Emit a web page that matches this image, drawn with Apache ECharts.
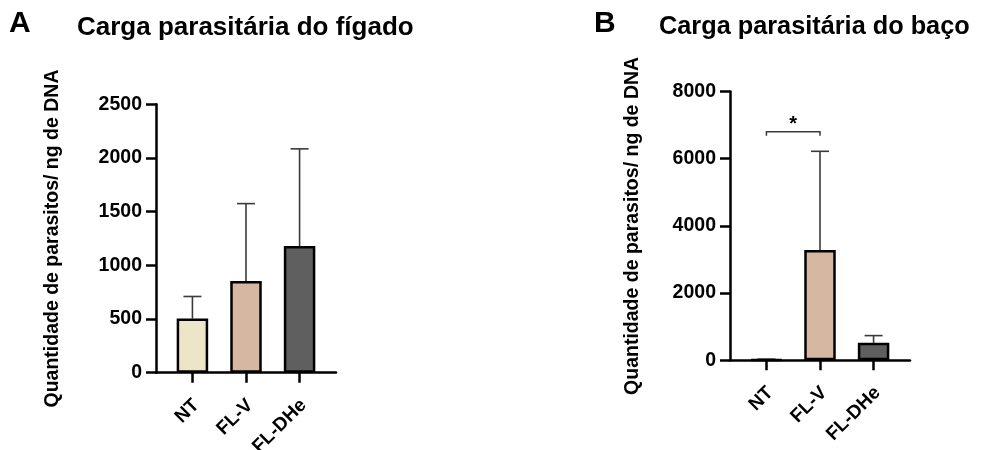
<!DOCTYPE html>
<html>
<head>
<meta charset="utf-8">
<script src="https://cdn.jsdelivr.net/npm/echarts@6/dist/echarts.min.js"></script>
<style>
html,body{margin:0;padding:0;background:#fff;}
#chart{width:981px;height:450px;}
</style>
</head>
<body>
<div id="chart"></div>
<script>
// ---- data ----
const categories = ['NT', 'FL-V', 'FL-DHe'];
const catPositions = [0, 1, 2];
const liverMean = [505, 855, 1180];
const liverUpper = [710, 1575, 2085];
const spleenMean = [20, 3280, 520];
const spleenUpper = [35, 6220, 735];
const liverTicks = { min: 0, max: 2500, interval: 500 };
const spleenTicks = { min: 0, max: 8000, interval: 2000 };
const sigBracket = { from: 0, to: 1, y: 6800, leg: 6680, label: '*' };
const yName = 'Quantidade de parasitos/ ng de DNA';
const titleA = 'Carga parasitária do fígado';
const titleB = 'Carga parasitária do baço';

// ---- styles ----
const barColors = ['#ECE5C8', '#D6B7A1', '#5F5F5F'];
const FONT = '"Liberation Sans", Arial, sans-serif';

const chart = echarts.init(document.getElementById('chart'), null, { renderer: 'canvas' });

function xAxisCfg(gridIndex) {
  return {
    type: 'value', gridIndex: gridIndex, min: -0.68, max: 2.68,
    splitLine: { show: false },
    axisLine: { show: true, onZero: false, lineStyle: { color: '#000', width: 2.5 } },
    axisTick: { show: true, customValues: catPositions, length: 10, lineStyle: { color: '#000', width: 2.5 } },
    axisLabel: {
      customValues: catPositions, rotate: 45, margin: 20, verticalAlign: 'top',
      padding: [0, 4, 0, 0],
      formatter: v => categories[Math.round(v)],
      color: '#000', fontFamily: FONT, fontWeight: 'bold', fontSize: 19
    }
  };
}
function yAxisCfg(gridIndex, t, gap) {
  return {
    type: 'value', gridIndex: gridIndex, min: t.min, max: t.max, interval: t.interval,
    splitLine: { show: false },
    axisLine: { show: true, onZero: false, lineStyle: { color: '#000', width: 2.5 } },
    axisTick: { show: true, length: 10, lineStyle: { color: '#000', width: 2.5 } },
    axisLabel: { margin: 14, color: '#000', fontFamily: FONT, fontWeight: 'bold', fontSize: 19.5,
      formatter: v => String(v) },
    name: yName, nameLocation: 'middle', nameRotate: 90, nameGap: gap,
    nameTextStyle: { color: '#000', fontFamily: FONT, fontWeight: 'bold', fontSize: 19.5 }
  };
}
function barSeries(idx, means) {
  return {
    type: 'bar', xAxisIndex: idx, yAxisIndex: idx, barWidth: 31.5,
    data: means.map((m, i) => [catPositions[i], m]),
    itemStyle: { color: p => barColors[p.dataIndex], borderColor: '#000', borderWidth: 2.5 },
    z: 3
  };
}
function errSeries(idx, means, uppers) {
  return {
    type: 'custom', xAxisIndex: idx, yAxisIndex: idx, z: 2,
    data: means.map((m, i) => [catPositions[i], m, uppers[i]]),
    renderItem: function (params, api) {
      const base = api.coord([api.value(0), api.value(1)]);
      const top = api.coord([api.value(0), api.value(2)]);
      const hw = 9;
      const st = { stroke: '#3a3a3a', lineWidth: 1.6 };
      return {
        type: 'group', children: [
          { type: 'line', shape: { x1: base[0], y1: base[1], x2: top[0], y2: top[1] }, style: st },
          { type: 'line', shape: { x1: top[0] - hw, y1: top[1], x2: top[0] + hw, y2: top[1] }, style: st }
        ]
      };
    }
  };
}

const option = {
  backgroundColor: '#fff',
  animation: false,
  title: [
    { text: 'A', left: 9, top: 9, padding: 0, textStyle: { fontFamily: FONT, fontWeight: 'bold', fontSize: 30, color: '#000' } },
    { text: titleA, left: 77, top: 15, padding: 0, textStyle: { fontFamily: FONT, fontWeight: 'bold', fontSize: 26, color: '#000' } },
    { text: 'B', left: 594, top: 9, padding: 0, textStyle: { fontFamily: FONT, fontWeight: 'bold', fontSize: 30, color: '#000' } },
    { text: titleB, left: 659, top: 15, padding: 0, textStyle: { fontFamily: FONT, fontWeight: 'bold', fontSize: 25.3, color: '#000' } }
  ],
  grid: [
    { left: 156, top: 104.3, width: 180, height: 268.4, outerBoundsMode: 'none', containLabel: false },
    { left: 730, top: 91.5, width: 180, height: 268.8, outerBoundsMode: 'none', containLabel: false }
  ],
  xAxis: [xAxisCfg(0), xAxisCfg(1)],
  yAxis: [yAxisCfg(0, liverTicks, 93), yAxisCfg(1, spleenTicks, 87)],
  series: [
    barSeries(0, liverMean),
    errSeries(0, liverMean, liverUpper),
    barSeries(1, spleenMean),
    errSeries(1, spleenMean, spleenUpper),
    {
      type: 'custom', xAxisIndex: 1, yAxisIndex: 1, z: 4,
      data: [[sigBracket.from, sigBracket.to, sigBracket.y, sigBracket.leg]],
      renderItem: function (params, api) {
        const l = api.coord([api.value(0), api.value(2)]);
        const r = api.coord([api.value(1), api.value(2)]);
        const lg = api.coord([api.value(0), api.value(3)]);
        const st = { stroke: '#3a3a3a', lineWidth: 1.5, fill: 'none' };
        return {
          type: 'group', children: [
            { type: 'polyline', shape: { points: [[l[0], lg[1]], l, r, [r[0], lg[1]]] }, style: st },
            { type: 'text', x: (l[0] + r[0]) / 2, y: l[1] - 7,
              style: { text: sigBracket.label, fontFamily: FONT, fontSize: 20, fontWeight: 'bold', fill: '#000', align: 'center', verticalAlign: 'middle' } }
          ]
        };
      }
    }
  ]
};
chart.setOption(option);
</script>
</body>
</html>
